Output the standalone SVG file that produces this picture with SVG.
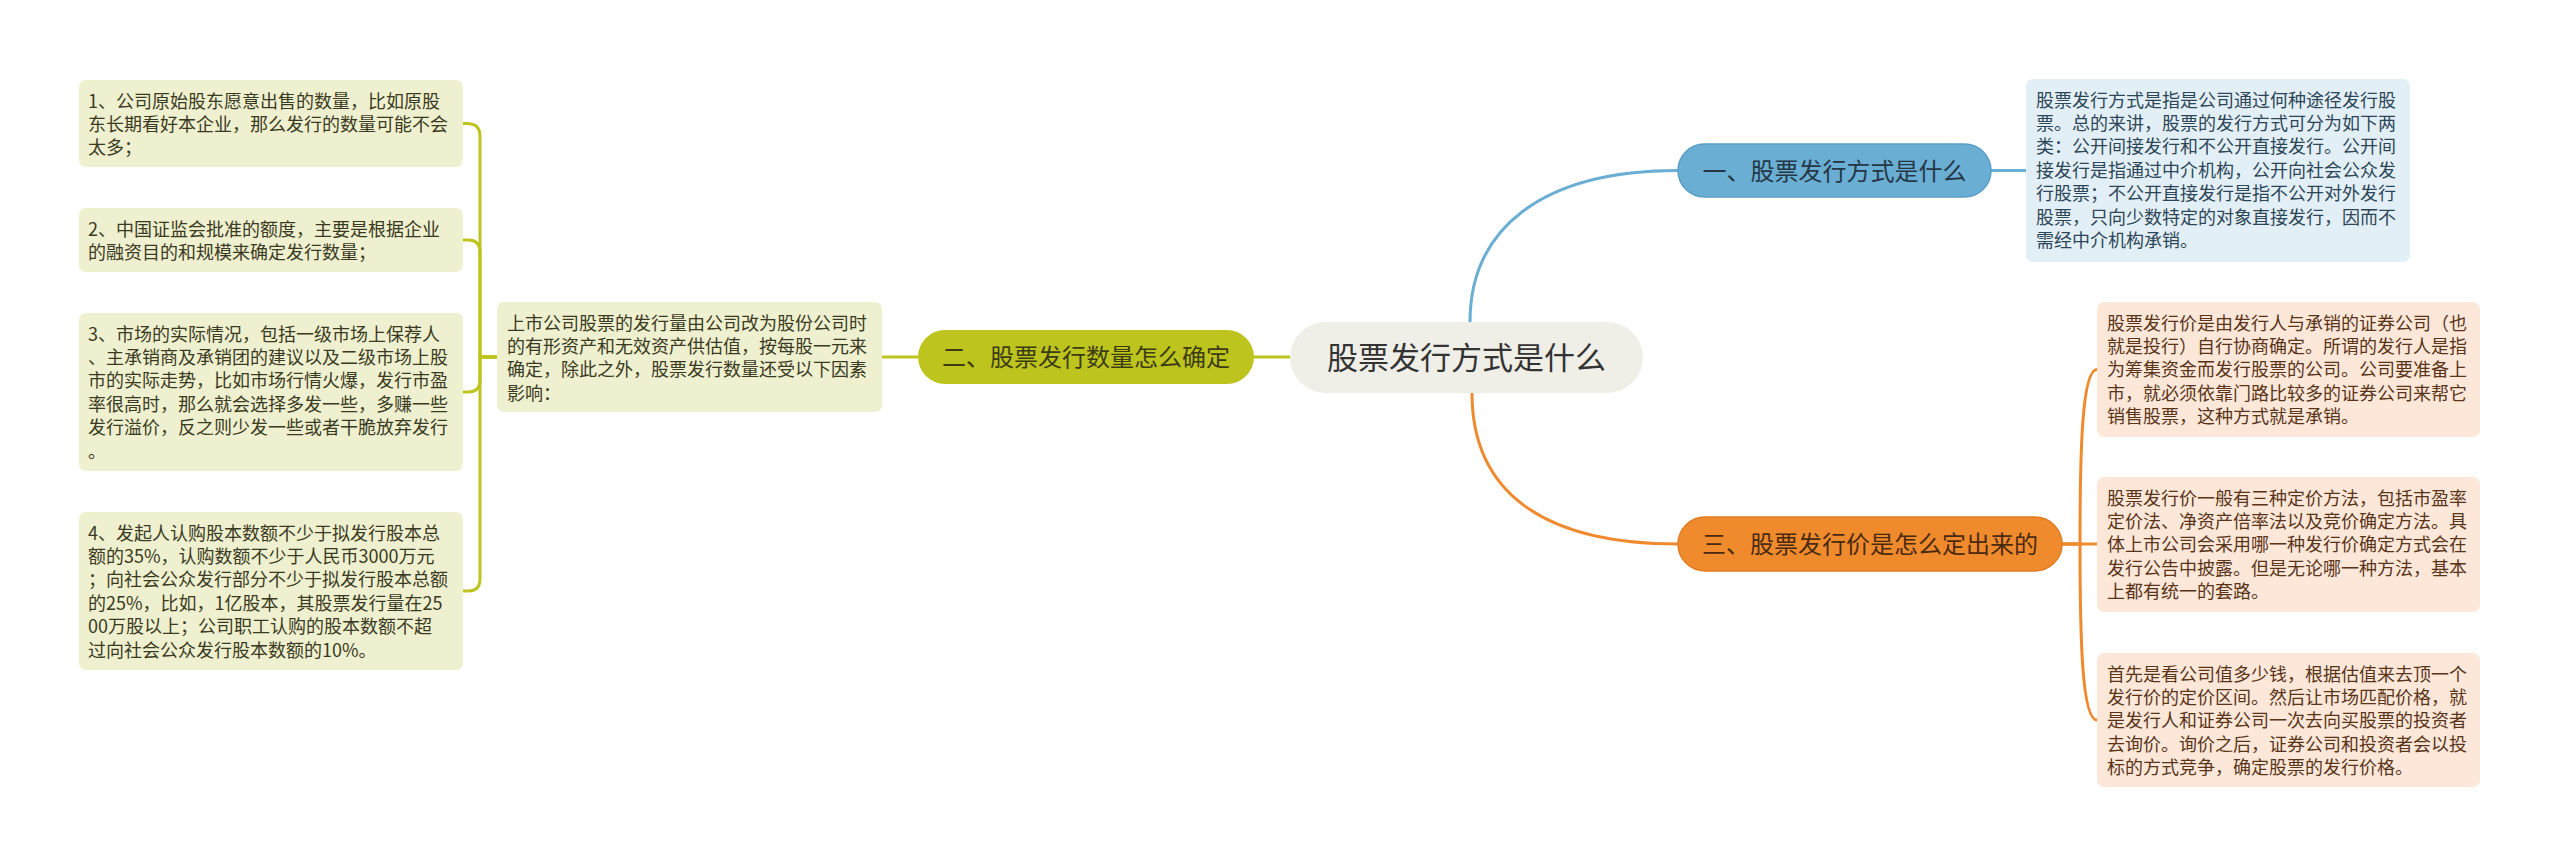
<svg xmlns="http://www.w3.org/2000/svg" width="2560" height="867" viewBox="0 0 2560 867">
<style>
.t{font-family:"Noto Sans CJK SC","Noto Sans",sans-serif;font-size:18px}
.tg{fill:#3a3a22}
.tb{fill:#2c4658}
.to{fill:#5a3418}
.boxg{fill:#eff0cf}
.boxb{fill:#e3eff6}
.boxo{fill:#fce7d8}
.n{font-family:"Noto Sans CJK SC","Noto Sans",sans-serif;font-size:24px;text-anchor:middle}
.cg{fill:none;stroke:#bcc41d;stroke-width:3}
.cb{fill:none;stroke:#6aaed3;stroke-width:3}
.co{fill:none;stroke:#ef8a2e;stroke-width:3}
</style>
<rect width="2560" height="867" fill="#ffffff"/>
<g id="connectors">
<path class="cb" d="M1470,322 C1470,230 1540,170.5 1678,170.5"/>
<path class="co" d="M1472,393 C1472,490 1540,544 1678,544"/>
<path class="cg" d="M1290,357 H1254"/>
<path class="cb" d="M1991,170.5 H2026"/>
<path class="cg" d="M918,357 H882"/>
<path class="cg" d="M497,357 H480 V136 Q480,123.5 467,123.5 H463"/>
<path class="cg" d="M497,357 H480 V252 Q480,240 468,240 H463"/>
<path class="cg" d="M497,357 H480 V380 Q480,392 468,392 H463"/>
<path class="cg" d="M497,357 H480 V579 Q480,591 468,591 H463"/>
<path class="co" d="M2062,544 H2080 C2080,450 2082,369.5 2097,369.5"/>
<path class="co" d="M2062,544 H2097"/>
<path class="co" d="M2062,544 H2080 C2080,640 2082,720 2097,720"/>
</g>
<g id="central">
<rect x="1290" y="322" width="353" height="71" rx="35.5" fill="#efefe8"/>
<text class="n" x="1466.5" y="369" style="font-size:31px" fill="#333333">股票发行方式是什么</text>
</g>
<g id="node1">
<rect x="1678" y="144" width="313" height="53" rx="26.5" fill="#6aaed3" stroke="#5a9ec6" stroke-width="1.5"/>
<text class="n" x="1834.5" y="179.5" fill="#253746">一、股票发行方式是什么</text>
</g>
<g id="node2">
<rect x="918" y="330" width="336" height="54" rx="27" fill="#bcc41d"/>
<text class="n" x="1086" y="366" fill="#3c3c12">二、股票发行数量怎么确定</text>
</g>
<g id="node3">
<rect x="1678" y="517" width="384" height="54" rx="27" fill="#f08b2d" stroke="#e27c22" stroke-width="1.5"/>
<text class="n" x="1870" y="553" fill="#4a2a10">三、股票发行价是怎么定出来的</text>
</g>
<g id="blue-box">
<rect class="boxb" x="2026" y="79" width="384" height="183" rx="7"/>
<text class="t tb" x="2036" y="106.5">股票发行方式是指是公司通过何种途径发行股</text>
<text class="t tb" x="2036" y="129.9">票。总的来讲，股票的发行方式可分为如下两</text>
<text class="t tb" x="2036" y="153.3">类：公开间接发行和不公开直接发行。公开间</text>
<text class="t tb" x="2036" y="176.7">接发行是指通过中介机构，公开向社会公众发</text>
<text class="t tb" x="2036" y="200.1">行股票；不公开直接发行是指不公开对外发行</text>
<text class="t tb" x="2036" y="223.5">股票，只向少数特定的对象直接发行，因而不</text>
<text class="t tb" x="2036" y="246.9">需经中介机构承销。</text>
</g>
<g id="mid-box">
<rect class="boxg" x="497" y="302" width="385" height="110" rx="7"/>
<text class="t tg" x="507" y="329.5">上市公司股票的发行量由公司改为股份公司时</text>
<text class="t tg" x="507" y="352.9">的有形资产和无效资产供估值，按每股一元来</text>
<text class="t tg" x="507" y="376.3">确定，除此之外，股票发行数量还受以下因素</text>
<text class="t tg" x="507" y="399.7">影响：</text>
</g>
<g id="left-box1">
<rect class="boxg" x="79" y="80" width="384" height="87" rx="7"/>
<text class="t tg" x="88" y="107.5">1、公司原始股东愿意出售的数量，比如原股</text>
<text class="t tg" x="88" y="130.9">东长期看好本企业，那么发行的数量可能不会</text>
<text class="t tg" x="88" y="154.3">太多；</text>
</g>
<g id="left-box2">
<rect class="boxg" x="79" y="208" width="384" height="64" rx="7"/>
<text class="t tg" x="88" y="235.5">2、中国证监会批准的额度，主要是根据企业</text>
<text class="t tg" x="88" y="258.9">的融资目的和规模来确定发行数量；</text>
</g>
<g id="left-box3">
<rect class="boxg" x="79" y="313" width="384" height="158" rx="7"/>
<text class="t tg" x="88" y="340.5">3、市场的实际情况，包括一级市场上保荐人</text>
<text class="t tg" x="88" y="363.9">、主承销商及承销团的建议以及二级市场上股</text>
<text class="t tg" x="88" y="387.3">市的实际走势，比如市场行情火爆，发行市盈</text>
<text class="t tg" x="88" y="410.7">率很高时，那么就会选择多发一些，多赚一些</text>
<text class="t tg" x="88" y="434.1">发行溢价，反之则少发一些或者干脆放弃发行</text>
<text class="t tg" x="88" y="457.5">。</text>
</g>
<g id="left-box4">
<rect class="boxg" x="79" y="512" width="384" height="158" rx="7"/>
<text class="t tg" x="88" y="539.5">4、发起人认购股本数额不少于拟发行股本总</text>
<text class="t tg" x="88" y="562.9">额的35%，认购数额不少于人民币3000万元</text>
<text class="t tg" x="88" y="586.3">；向社会公众发行部分不少于拟发行股本总额</text>
<text class="t tg" x="88" y="609.7">的25%，比如，1亿股本，其股票发行量在25</text>
<text class="t tg" x="88" y="633.1">00万股以上；公司职工认购的股本数额不超</text>
<text class="t tg" x="88" y="656.5">过向社会公众发行股本数额的10%。</text>
</g>
<g id="orange-box1">
<rect class="boxo" x="2097" y="302" width="383" height="135" rx="7"/>
<text class="t to" x="2107" y="329.5">股票发行价是由发行人与承销的证券公司（也</text>
<text class="t to" x="2107" y="352.9">就是投行）自行协商确定。所谓的发行人是指</text>
<text class="t to" x="2107" y="376.3">为筹集资金而发行股票的公司。公司要准备上</text>
<text class="t to" x="2107" y="399.7">市，就必须依靠门路比较多的证券公司来帮它</text>
<text class="t to" x="2107" y="423.1">销售股票，这种方式就是承销。</text>
</g>
<g id="orange-box2">
<rect class="boxo" x="2097" y="477" width="383" height="135" rx="7"/>
<text class="t to" x="2107" y="504.5">股票发行价一般有三种定价方法，包括市盈率</text>
<text class="t to" x="2107" y="527.9">定价法、净资产倍率法以及竞价确定方法。具</text>
<text class="t to" x="2107" y="551.3">体上市公司会采用哪一种发行价确定方式会在</text>
<text class="t to" x="2107" y="574.7">发行公告中披露。但是无论哪一种方法，基本</text>
<text class="t to" x="2107" y="598.1">上都有统一的套路。</text>
</g>
<g id="orange-box3">
<rect class="boxo" x="2097" y="653" width="383" height="134" rx="7"/>
<text class="t to" x="2107" y="680.5">首先是看公司值多少钱，根据估值来去顶一个</text>
<text class="t to" x="2107" y="703.9">发行价的定价区间。然后让市场匹配价格，就</text>
<text class="t to" x="2107" y="727.3">是发行人和证券公司一次去向买股票的投资者</text>
<text class="t to" x="2107" y="750.7">去询价。询价之后，证券公司和投资者会以投</text>
<text class="t to" x="2107" y="774.1">标的方式竞争，确定股票的发行价格。</text>
</g>
</svg>
